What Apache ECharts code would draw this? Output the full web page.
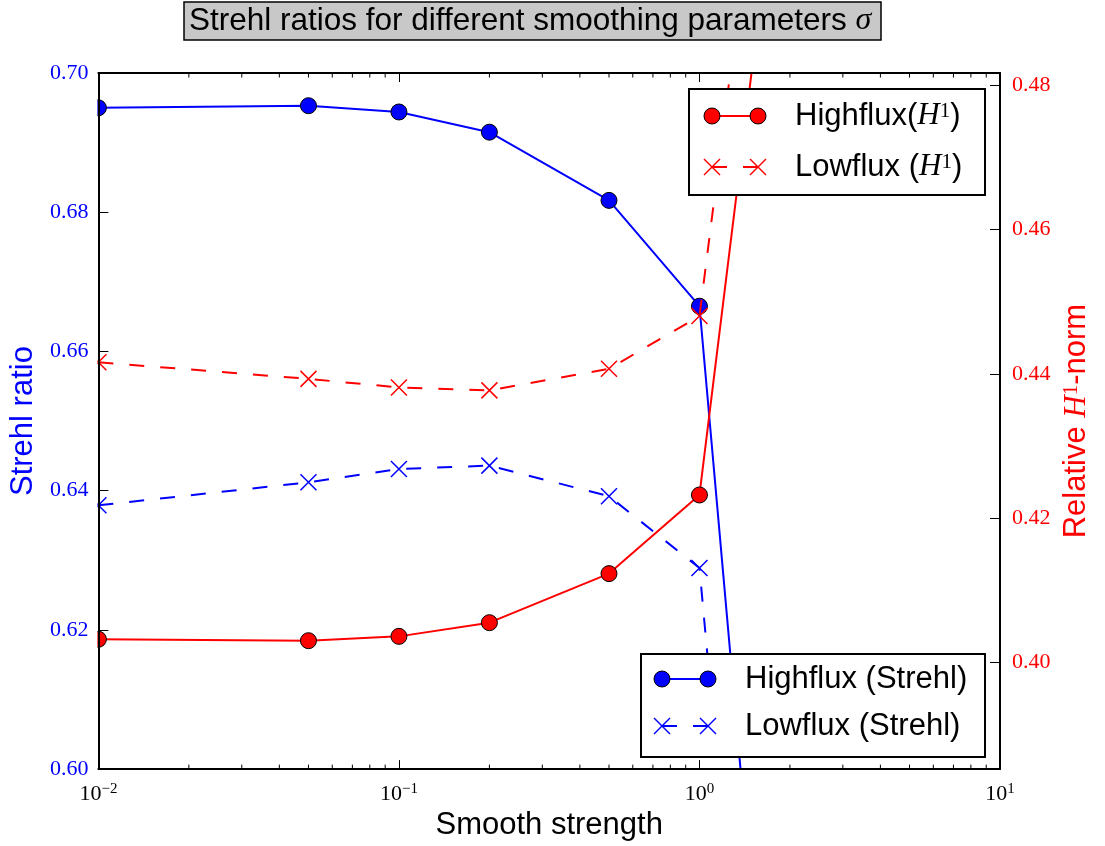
<!DOCTYPE html>
<html><head><meta charset="utf-8">
<script src="https://cdn.jsdelivr.net/npm/echarts@6/dist/echarts.min.js"></script>
<style>html,body{margin:0;padding:0;background:#fff}#c{width:1105px;height:846px}</style>
</head><body><div id="c"></div>
<script>
// ---- data ----
const smoothing = [0.01, 0.05, 0.1, 0.2, 0.5, 1.0, 2.0];
const highfluxStrehl = [0.6950, 0.6953, 0.6944, 0.6915, 0.6817, 0.6665, 0.5200];
const lowfluxStrehl  = [0.6379, 0.6412, 0.6431, 0.6436, 0.6392, 0.6289, 0.4866];
const highfluxH1     = [0.4032, 0.4030, 0.4036, 0.4055, 0.4123, 0.4232, 0.5249];
const lowfluxH1      = [0.4416, 0.4393, 0.4381, 0.4377, 0.4407, 0.4480, 0.5470];
const minorTicks = [0.02,0.03,0.04,0.05,0.06,0.07,0.08,0.09,0.2,0.3,0.4,0.5,0.6,0.7,0.8,0.9,2,3,4,5,6,7,8,9];
const seriesNames = ['Highflux (Strehl)', 'Lowflux (Strehl)', 'Highflux(H1)', 'Lowflux (H1)'];
const legendTextsTop = ['Highflux({i|H}{s|1})', 'Lowflux ({i|H}{s|1})'];
const legendTextsBottom = ['Highflux (Strehl)', 'Lowflux (Strehl)'];

const SANS = 'Liberation Sans';
const SERIF = 'Liberation Serif';
const BLUE = '#0000ff', RED = '#ff0000';
const DASH = [15, 16];
const crossPath = 'path://M0,0L10,10M10,0L0,10';
const MASK_COLOR = '#ffffff';

function pairs(ys) { return smoothing.map((x, i) => [x, ys[i]]); }

const chart = echarts.init(document.getElementById('c'), null, {renderer: 'canvas'});

const mathRich = {
  i: {fontFamily: SERIF, fontStyle: 'italic', fontSize: 31, color: '#000'},
  s: {fontFamily: SERIF, fontSize: 21, color: '#000', verticalAlign: 'top', lineHeight: 20}
};

function legendGraphic(box, x1, x2, xt, rows) {
  const els = [{type: 'rect', z: 200, shape: box, style: {fill: '#fff', stroke: '#000', lineWidth: 2}}];
  rows.forEach(r => {
    if (r.kind === 'circle') {
      els.push({type: 'line', z: 201, shape: {x1: x1, y1: r.y, x2: x2, y2: r.y}, style: {stroke: r.color, lineWidth: 2}});
      [x1, x2].forEach(cx => els.push({type: 'circle', z: 202, shape: {cx: cx, cy: r.y, r: 8}, style: {fill: r.color, stroke: '#000', lineWidth: 1}}));
    } else {
      els.push({type: 'line', z: 201, shape: {x1: x1, y1: r.y, x2: x2, y2: r.y}, style: {stroke: r.color, lineWidth: 2, lineDash: DASH}});
      [x1, x2].forEach(cx => {
        els.push({type: 'line', z: 202, shape: {x1: cx - 8, y1: r.y - 8, x2: cx + 8, y2: r.y + 8}, style: {stroke: r.color, lineWidth: 1.5}});
        els.push({type: 'line', z: 202, shape: {x1: cx - 8, y1: r.y + 8, x2: cx + 8, y2: r.y - 8}, style: {stroke: r.color, lineWidth: 1.5}});
      });
    }
    els.push({type: 'text', z: 203, x: xt, y: r.y, style: {text: r.text, font: '31px "' + SANS + '"', fill: '#000', verticalAlign: 'middle', align: 'left', rich: mathRich}});
  });
  return els;
}

const graphics = [
  ...legendGraphic({x: 689, y: 89, width: 296, height: 106}, 712, 758, 795, [
    {kind: 'circle', color: RED, y: 116, text: legendTextsTop[0]},
    {kind: 'cross', color: RED, y: 167, text: legendTextsTop[1]}
  ]),
  ...legendGraphic({x: 641, y: 654, width: 344, height: 103}, 662, 708, 745, [
    {kind: 'circle', color: BLUE, y: 679, text: legendTextsBottom[0]},
    {kind: 'cross', color: BLUE, y: 726, text: legendTextsBottom[1]}
  ])
];

const xLabelRich = {
  b: {fontFamily: SERIF, fontSize: 22, color: '#000', lineHeight: 26},
  s: {fontFamily: SERIF, fontSize: 15, color: '#000', verticalAlign: 'top', lineHeight: 16}
};
function logLabel(v) {
  const e = Math.round(Math.log10(v));
  return '{b|10}{s|' + (e < 0 ? '\u2212' + (-e) : e) + '}';
}
const spine = {show: true, onZero: false, lineStyle: {color: '#000', width: 2}};
const AXZ = 180;

const option = {
  animation: false,
  backgroundColor: '#fff',
  title: {
    text: 'Strehl ratios for different smoothing parameters {s|σ}',
    left: 184, top: 2,
    backgroundColor: '#c8c8c8', borderColor: '#000', borderWidth: 1.5,
    padding: [3, 10, 3, 5],
    textStyle: {fontFamily: SANS, fontSize: 31.5, fontWeight: 'normal', color: '#000',
      rich: {s: {fontFamily: SERIF, fontStyle: 'italic', fontSize: 32, color: '#000'}}}
  },
  grid: {left: 98, right: 105, top: 73, bottom: 74, containLabel: false},
  xAxis: [{
    type: 'log', logBase: 10, min: 0.01, max: 10, position: 'bottom', z: AXZ,
    axisLine: spine,
    axisTick: {show: true, inside: true, length: 9, lineStyle: {color: '#000', width: 1}},
    axisLabel: {formatter: logLabel, rich: xLabelRich, margin: 12},
    splitLine: {show: false},
    name: 'Smooth strength', nameLocation: 'middle', nameGap: 38,
    nameTextStyle: {fontFamily: SANS, fontSize: 31, color: '#000'}
  }, {
    type: 'log', logBase: 10, min: 0.01, max: 10, position: 'top', z: AXZ,
    axisLine: spine,
    axisTick: {show: true, inside: true, length: 9, lineStyle: {color: '#000', width: 1}},
    axisLabel: {show: false}, splitLine: {show: false}
  }],
  yAxis: [{
    type: 'value', min: 0.6, max: 0.7, interval: 0.02, position: 'left', z: AXZ,
    axisLine: spine,
    axisTick: {show: true, inside: true, length: 10, lineStyle: {color: '#000', width: 1}},
    axisLabel: {color: BLUE, fontFamily: SERIF, fontSize: 22, margin: 10, formatter: v => v.toFixed(2)},
    splitLine: {show: false},
    name: 'Strehl ratio', nameLocation: 'middle', nameRotate: 90, nameGap: 58,
    nameTextStyle: {color: BLUE, fontFamily: SANS, fontSize: 31}
  }, {
    type: 'value', min: 0.3852, max: 0.4817, splitNumber: 5, position: 'right', z: AXZ,
    axisLine: spine,
    axisTick: {show: true, inside: true, length: 10, lineStyle: {color: '#000', width: 1}},
    axisLabel: {color: RED, fontFamily: SERIF, fontSize: 22, margin: 12,
      formatter: v => (Math.abs(v * 50 - Math.round(v * 50)) < 1e-6 ? v.toFixed(2) : '')},
    splitLine: {show: false},
    name: 'Relative {i|H}{s|1}-norm', nameLocation: 'middle', nameRotate: 90, nameGap: 58,
    nameTextStyle: {color: RED, fontFamily: SANS, fontSize: 31,
      rich: {i: {fontFamily: SERIF, fontStyle: 'italic', fontSize: 31, color: RED},
             s: {fontFamily: SERIF, fontSize: 21, color: RED, verticalAlign: 'top', lineHeight: 20}}}
  }],
  graphic: graphics,
  series: [
    {name: seriesNames[0], type: 'line', xAxisIndex: 0, yAxisIndex: 0, data: pairs(highfluxStrehl), clip: true,
     symbol: 'circle', symbolSize: 16, z: 3,
     lineStyle: {color: BLUE, width: 2}, itemStyle: {color: BLUE, borderColor: '#000', borderWidth: 1}},
    {name: seriesNames[1], type: 'line', xAxisIndex: 0, yAxisIndex: 0, data: pairs(lowfluxStrehl), clip: true,
     symbol: crossPath, symbolSize: 16, z: 3,
     lineStyle: {color: BLUE, width: 2, type: DASH}, itemStyle: {color: BLUE, borderColor: BLUE, borderWidth: 1.5}},
    {name: seriesNames[2], type: 'line', xAxisIndex: 0, yAxisIndex: 1, data: pairs(highfluxH1), clip: true,
     symbol: 'circle', symbolSize: 16, z: 4,
     lineStyle: {color: RED, width: 2}, itemStyle: {color: RED, borderColor: '#000', borderWidth: 1}},
    {name: seriesNames[3], type: 'line', xAxisIndex: 0, yAxisIndex: 1, data: pairs(lowfluxH1), clip: true,
     symbol: crossPath, symbolSize: 16, z: 4,
     lineStyle: {color: RED, width: 2, type: DASH}, itemStyle: {color: RED, borderColor: RED, borderWidth: 1.5}},
    // mask left of the left spine: markers are clipped by the axes in the reference
    {type: 'custom', xAxisIndex: 0, yAxisIndex: 0, silent: true, clip: false, z: 150,
     data: [[0.01, 0.65]], encode: {x: 0, y: 1},
     renderItem: function (params, api) {
       const cs = params.coordSys;
       return {type: 'rect', shape: {x: 0, y: cs.y - 12, width: cs.x - 1, height: cs.height + 12}, style: {fill: MASK_COLOR}};
     }},
    // minor ticks of the log axis (bottom and top)
    {type: 'custom', xAxisIndex: 0, yAxisIndex: 0, silent: true, clip: false, z: AXZ,
     data: minorTicks.map(v => [v, 0.65]), encode: {x: 0, y: 1},
     renderItem: function (params, api) {
       const cs = params.coordSys;
       const px = api.coord([api.value(0), api.value(1)])[0];
       const b = cs.y + cs.height, t = cs.y;
       return {type: 'group', children: [
         {type: 'line', shape: {x1: px, y1: b, x2: px, y2: b - 4.5}, style: {stroke: '#000', lineWidth: 1}},
         {type: 'line', shape: {x1: px, y1: t, x2: px, y2: t + 4.5}, style: {stroke: '#000', lineWidth: 1}}
       ]};
     }}
  ]
};
chart.setOption(option);
</script>
</body></html>
